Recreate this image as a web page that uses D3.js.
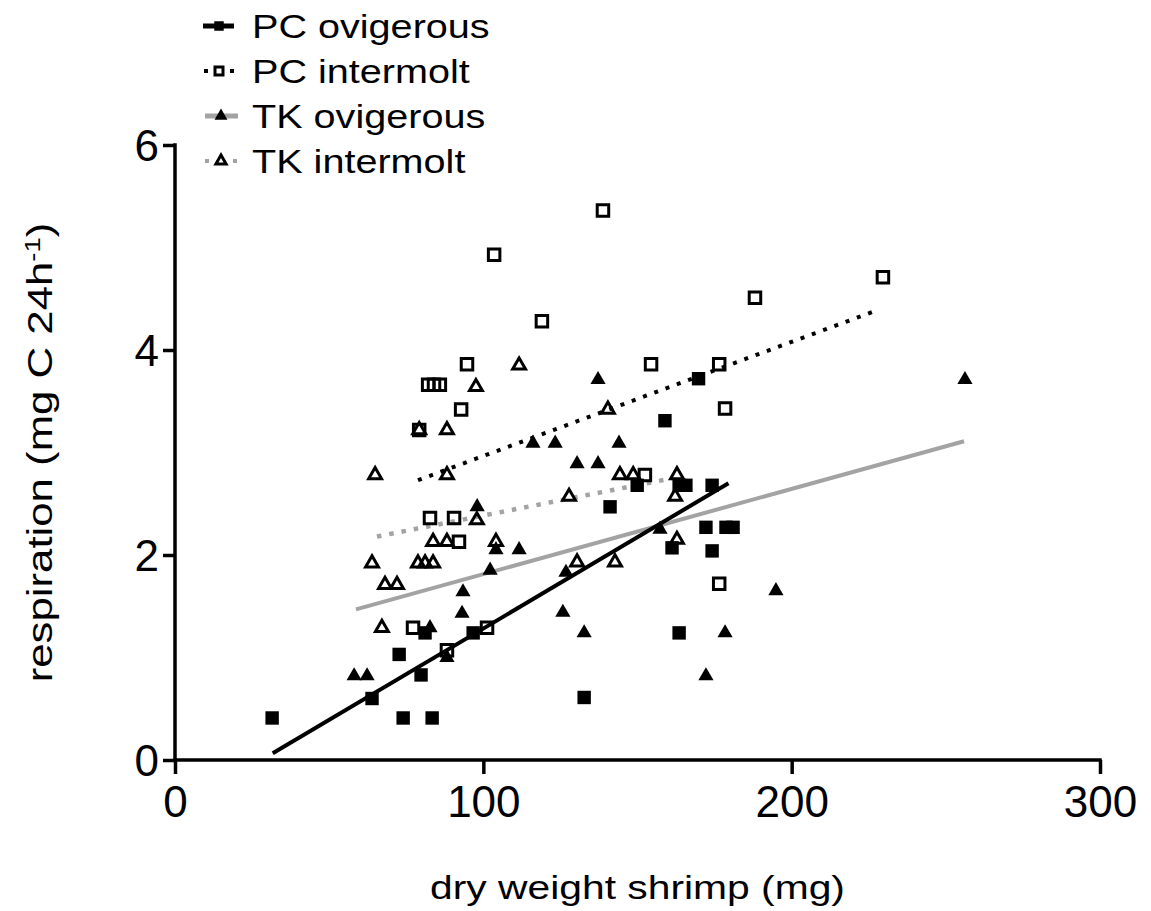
<!DOCTYPE html>
<html><head><meta charset="utf-8">
<script src="https://cdn.jsdelivr.net/npm/d3@7"></script>
<style>html,body{margin:0;padding:0;background:#fff;}svg{display:block;}</style>
</head><body>
<script>
// ---- data (dry weight mg, respiration mg C 24h-1) ----
const seriesNames = ["PC ovigerous", "PC intermolt", "TK ovigerous", "TK intermolt"];
const xTicks = [0, 100, 200, 300];
const yTicks = [0, 2, 4, 6];

const pcOvigerous = [[31.5,0.41],[63.9,0.60],[72.7,1.03],[74.0,0.41],[79.8,0.83],[81.1,1.24],[83.4,0.41],[96.7,1.24],[132.7,0.61],[141.1,2.47],[149.9,2.68],[158.9,3.31],[161.2,2.07],[163.5,2.68],[165.7,2.68],[169.8,3.72],[172.2,2.27],[174.2,2.68],[174.2,2.04],[178.7,2.27],[181.0,2.27],[163.5,1.24]];
const pcIntermolt = [[94.7,3.86],[82.1,3.66],[84.0,3.66],[85.9,3.66],[92.8,3.42],[79.2,3.22],[82.7,2.36],[90.5,2.36],[92.1,2.13],[77.2,1.29],[88.2,1.07],[101.2,1.29],[138.8,5.36],[103.5,4.93],[119.0,4.28],[154.4,3.86],[176.5,3.86],[178.4,3.43],[188.1,4.51],[229.6,4.71],[152.4,2.78],[176.5,1.72]];
const tkOvigerous = [[58.1,0.82],[62.3,0.82],[82.7,1.29],[88.2,1.00],[93.1,1.43],[93.4,1.64],[98.0,2.47],[102.2,1.85],[104.1,2.05],[111.6,2.05],[116.1,3.09],[123.3,3.09],[126.8,1.83],[125.8,1.44],[130.4,2.89],[132.7,1.24],[137.2,2.89],[137.2,3.71],[144.0,3.09],[157.3,2.25],[172.2,0.82],[178.4,1.24],[194.9,1.65],[256.2,3.71]];
const tkIntermolt = [[97.6,3.64],[88.2,3.22],[79.2,3.22],[64.9,2.78],[88.2,2.78],[97.9,2.34],[83.7,2.13],[88.2,2.13],[104.1,2.13],[63.9,1.92],[78.8,1.92],[81.1,1.92],[83.7,1.92],[68.1,1.71],[72.0,1.71],[67.1,1.29],[111.6,3.85],[140.4,3.42],[144.3,2.78],[148.6,2.78],[162.8,2.78],[127.8,2.57],[162.2,2.57],[130.4,1.93],[142.7,1.93],[162.8,2.15]];

// regression lines: [[x0,y0],[x1,y1]]
const pcOvigerousFit = [[31.7,0.065],[179.5,2.70]];
const pcIntermoltFit = [[78.8,2.73],[227.0,4.38]];
const tkOvigerousFit = [[58.7,1.47],[255.9,3.11]];
const tkIntermoltFit = [[65.5,2.18],[161.5,2.75]];

(function () {
// ---- layout ----
const W = 1151, H = 911;
const pL = 175, pR = 1100, pT = 145, pB = 760;
const gray = "#a3a3a3";

const svg = d3.select("body").append("svg").attr("width", W).attr("height", H);
const x = d3.scaleLinear().domain([0, 300]).range([pL, pR]);
const y = d3.scaleLinear().domain([0, 6]).range([pB, pT]);

const font = "'Liberation Sans', Arial, Helvetica, sans-serif";

// axes
const xAxis = d3.axisBottom(x).tickValues(xTicks).tickFormat(d3.format("d")).tickSize(14).tickPadding(12).tickSizeOuter(0);
const yAxis = d3.axisLeft(y).tickValues(yTicks).tickFormat(d3.format("d")).tickSize(12).tickPadding(4).tickSizeOuter(0);

const gx = svg.append("g").attr("transform", `translate(0,${pB})`).call(xAxis);
const gy = svg.append("g").attr("transform", `translate(${pL},0)`).call(yAxis);
[gx, gy].forEach(g => {
  g.select(".domain").attr("stroke", "#000").attr("stroke-width", 3.5);
  g.selectAll(".tick line").attr("stroke", "#000").attr("stroke-width", 3.5);
  g.selectAll(".tick text").attr("fill", "#000").style("font-family", font).style("font-size", "44px");
});
gx.select(".domain").attr("d", `M${pL - 1.75},0H${pR + 1.75}`);
gy.select(".domain").attr("d", `M0,${pT - 1.75}V${pB}`);
gy.selectAll(".tick text").attr("dy", "0.36em");

// axis titles
svg.append("text")
  .attr("transform", `translate(${(pL + pR) / 2},899) scale(1.2,1)`)
  .attr("text-anchor", "middle")
  .style("font-family", font).style("font-size", "34px")
  .text("dry weight shrimp (mg)");

const yt = svg.append("text")
  .attr("transform", `translate(52,${(pT + pB) / 2}) rotate(-90) scale(1.25,1)`)
  .attr("text-anchor", "middle")
  .style("font-family", font).style("font-size", "35px");
yt.append("tspan").text("respiration (mg C 24h");
yt.append("tspan").attr("baseline-shift", "super").style("font-size", "22px").text("-1");
yt.append("tspan").text(")");

// regression lines
const line = d3.line().x(d => x(d[0])).y(d => y(d[1]));
svg.append("path").attr("d", line(tkOvigerousFit)).attr("stroke", gray).attr("stroke-width", 4).attr("fill", "none");
svg.append("path").attr("d", line(tkIntermoltFit)).attr("stroke", gray).attr("stroke-width", 4.5).attr("stroke-dasharray", "4.5,8").attr("fill", "none");
svg.append("path").attr("d", line(pcIntermoltFit)).attr("stroke", "#000").attr("stroke-width", 4).attr("stroke-dasharray", "4,8").attr("fill", "none");
svg.append("path").attr("d", line(pcOvigerousFit)).attr("stroke", "#000").attr("stroke-width", 4).attr("fill", "none");

// symbols
const styles = [
  {data: pcOvigerous, gen: d3.symbol().type(d3.symbolSquare).size(180)(), fill: "#000", stroke: "none", sw: 0},
  {data: pcIntermolt, gen: d3.symbol().type(d3.symbolSquare).size(132)(), fill: "none", stroke: "#000", sw: 3},
  {data: tkOvigerous, gen: d3.symbol().type(d3.symbolTriangle).size(100)(), fill: "#000", stroke: "none", sw: 0},
  {data: tkIntermolt, gen: d3.symbol().type(d3.symbolTriangle).size(72)(), fill: "none", stroke: "#000", sw: 3}
];
[3, 1, 2, 0].forEach(i => {
  const s = styles[i];
  svg.append("g").selectAll("path").data(s.data).join("path")
    .attr("transform", d => `translate(${x(d[0])},${y(d[1])})`)
    .attr("d", s.gen)
    .attr("fill", s.fill)
    .attr("stroke", s.stroke).attr("stroke-width", s.sw);
});

// legend
const legY = [26, 71, 116, 161];
const legGen = [
  d3.symbol().type(d3.symbolSquare).size(90)(),
  d3.symbol().type(d3.symbolSquare).size(64)(),
  d3.symbol().type(d3.symbolTriangle).size(72)(),
  d3.symbol().type(d3.symbolTriangle).size(45)()
];
const lg = svg.append("g");
seriesNames.forEach((name, i) => {
  const cy = legY[i];
  const g = lg.append("g");
  if (i === 0) {
    g.append("line").attr("x1", 203).attr("x2", 234).attr("y1", cy).attr("y2", cy).attr("stroke", "#000").attr("stroke-width", 5);
  } else if (i === 1) {
    g.append("rect").attr("x", 204).attr("y", cy - 2).attr("width", 4).attr("height", 4).attr("fill", "#000");
    g.append("rect").attr("x", 230).attr("y", cy - 2).attr("width", 4).attr("height", 4).attr("fill", "#000");
  } else if (i === 2) {
    g.append("line").attr("x1", 205).attr("x2", 238).attr("y1", cy).attr("y2", cy).attr("stroke", gray).attr("stroke-width", 5);
  } else {
    g.append("rect").attr("x", 205).attr("y", cy - 2).attr("width", 4).attr("height", 4).attr("fill", gray);
    g.append("rect").attr("x", 233).attr("y", cy - 2).attr("width", 4).attr("height", 4).attr("fill", gray);
  }
  const mx = i < 2 ? 219 : 221;
  const s = styles[i];
  g.append("path").attr("transform", `translate(${mx},${cy})`)
    .attr("d", legGen[i])
    .attr("fill", i === 1 || i === 3 ? "#fff" : "#000").attr("stroke", s.stroke).attr("stroke-width", s.sw);
  g.append("text")
    .attr("transform", `translate(252,${cy + 12}) scale(1.2,1)`)
    .style("font-family", font).style("font-size", "33px")
    .text(name);
});
})();
</script>
</body></html>
